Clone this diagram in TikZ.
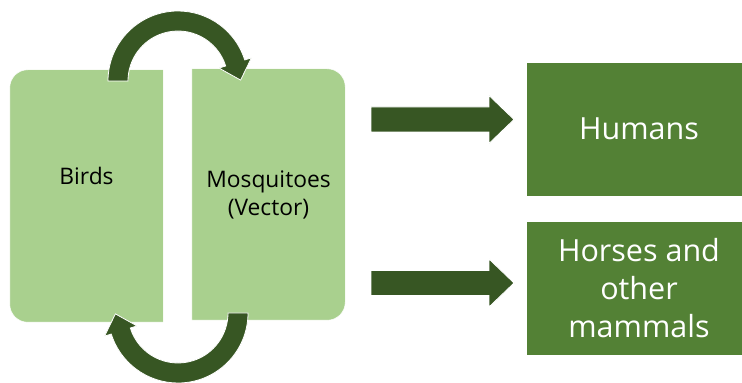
\documentclass[tikz,border=0pt]{standalone}
\usepackage{fontspec}
\setmainfont{Open Sans}
\usepackage{tikz}
\usetikzlibrary{backgrounds}

\definecolor{lightgreen}{HTML}{A9D08E}
\definecolor{hostgreen}{HTML}{538135}
\definecolor{arrowgreen}{HTML}{375623}

\begin{document}
\begin{tikzpicture}[x=1pt,y=1pt,
         halfbox/.style={minimum width=153pt,minimum height=252pt,inner sep=0pt,align=center,font=\fontsize{22.8}{28}\selectfont},
         hostbox/.style={fill=hostgreen,draw=white,text=white,minimum width=226pt,minimum height=134pt,inner sep=0pt,align=center,font=\fontsize{30.5}{38}\selectfont},
         blockarrow/.style={fill=arrowgreen,draw=white,line width=0.8pt}]
         \useasboundingbox (0,0) rectangle (742,383);

         \node[halfbox,label={[font=\fontsize{22.8}{28}\selectfont,yshift=20pt]center:Birds}](B) at (86.5,187) {};
         \node[halfbox,minimum height=251pt](M) at (268.5,188.5) {Mosquitoes\\(Vector)};
         \node[hostbox](H) at (639,254) {Humans};
         \node[hostbox](O) at (639,94.5) {Horses and\\other\\mammals};

         % the two half boxes, rounded on the outer side only
         \begin{scope}[on background layer]
         \fill[lightgreen,draw=white] (B.north) [rounded corners=18pt] -- (B.north west) -- (B.south west) -- (B.south) [sharp corners] -- (B.south east) -- (B.north east) -- cycle;
         \fill[lightgreen,draw=white] (M.north) [rounded corners=18pt] -- (M.north east) -- (M.south east) -- (M.south) [sharp corners] -- (M.south west) -- (M.north west) -- cycle;
         \end{scope}

         % cycle between birds and mosquitoes
         \foreach \c/\r in {{(178,302)}/0,{(178,70)}/180}
         \fill[blockarrow,shift=\c,rotate=\r] (180:70) arc[start angle=180,end angle=17.5,radius=70] -- (17.5:77) -- (62.6,0.9) -- (17.5:43) -- (17.5:50) arc[start angle=17.5,end angle=180,radius=50] -- cycle;

         % towards humans and horses
         \foreach \y in {263.5,100}
         \fill[blockarrow,shift={(371,\y)}] (0,-12.5) -- (0,12.5) -- (118,12.5) -- (118,24) -- (143,0) -- (118,-24) -- (118,-12.5) -- cycle;
\end{tikzpicture}
\end{document}
